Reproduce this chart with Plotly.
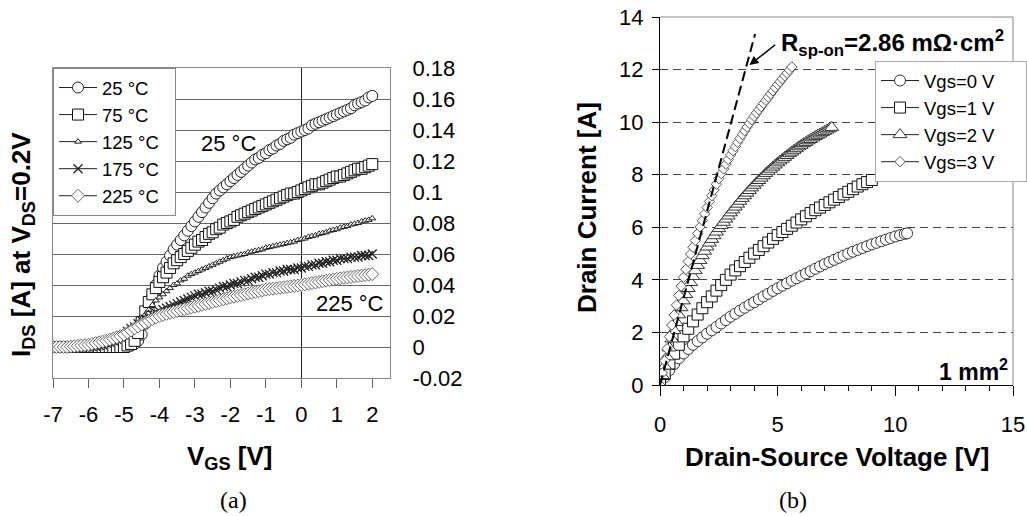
import plotly.graph_objects as go

# ---- panel (a): transfer curves, I_DS vs V_GS at V_DS = 0.2 V ----
VGS = [-7.0, -6.9, -6.8, -6.7, -6.6, -6.5, -6.4, -6.3, -6.2, -6.1,
       -6.0, -5.9, -5.8, -5.7, -5.6, -5.5, -5.4, -5.3, -5.2, -5.1,
       -5.0, -4.9, -4.8, -4.7, -4.6, -4.5, -4.4, -4.3, -4.2, -4.1,
       -4.0, -3.9, -3.8, -3.7, -3.6, -3.5, -3.4, -3.3, -3.2, -3.1,
       -3.0, -2.9, -2.8, -2.7, -2.6, -2.5, -2.4, -2.3, -2.2, -2.1,
       -2.0, -1.9, -1.8, -1.7, -1.6, -1.5, -1.4, -1.3, -1.2, -1.1,
       -1.0, -0.9, -0.8, -0.7, -0.6, -0.5, -0.4, -0.3, -0.2, -0.1,
       0.0, 0.1, 0.2, 0.3, 0.4, 0.5, 0.6, 0.7, 0.8, 0.9,
       1.0, 1.1, 1.2, 1.3, 1.4, 1.5, 1.6, 1.7, 1.8, 1.9,
       2.0]

I_25C = [0, 0, 0, 0, 0, 0, 0, 0, 0, 0,
         0, 0, 0, 0, 0, 0, 0, 0, 0, 0,
         0.000, 0.001, 0.001, 0.002, 0.004, 0.008, 0.015, 0.024, 0.033, 0.040,
         0.046, 0.051, 0.055, 0.059, 0.063, 0.066, 0.069, 0.072, 0.075, 0.078,
         0.081, 0.084, 0.087, 0.090, 0.093, 0.096, 0.099, 0.101, 0.103, 0.105,
         0.107, 0.109, 0.111, 0.113, 0.115, 0.117, 0.119, 0.121, 0.122, 0.124,
         0.125, 0.127, 0.128, 0.130, 0.131, 0.133, 0.134, 0.135, 0.137, 0.138,
         0.139, 0.140, 0.141, 0.143, 0.144, 0.145, 0.146, 0.147, 0.148, 0.149,
         0.150, 0.151, 0.152, 0.153, 0.154, 0.156, 0.157, 0.158, 0.159, 0.161,
         0.162]

I_75C = [0, 0, 0, 0, 0, 0, 0, 0, 0, 0,
         0, 0, 0, 0, 0, 0, 0, 0, 0, 0,
         0.000, 0.001, 0.002, 0.004, 0.009, 0.016, 0.023, 0.029, 0.034, 0.038,
         0.042, 0.045, 0.048, 0.051, 0.054, 0.056, 0.058, 0.060, 0.062, 0.064,
         0.066, 0.068, 0.069, 0.071, 0.073, 0.074, 0.076, 0.077, 0.079, 0.080,
         0.081, 0.082, 0.084, 0.085, 0.086, 0.087, 0.088, 0.089, 0.090, 0.091,
         0.092, 0.093, 0.094, 0.095, 0.096, 0.097, 0.098, 0.099, 0.099, 0.100,
         0.101, 0.102, 0.103, 0.104, 0.105, 0.105, 0.106, 0.107, 0.108, 0.109,
         0.110, 0.110, 0.111, 0.112, 0.113, 0.114, 0.115, 0.115, 0.116, 0.117,
         0.118]

I_125C = [0, 0, 0, 0, 0, 0, 0, 0, 0, 0,
          0.000, 0.000, 0.0005, 0.0008, 0.001, 0.0015, 0.002, 0.003, 0.004, 0.005,
          0.006, 0.008, 0.010, 0.013, 0.015, 0.018, 0.021, 0.024, 0.027, 0.030,
          0.032, 0.034, 0.036, 0.038, 0.040, 0.041, 0.043, 0.044, 0.046, 0.047,
          0.048, 0.049, 0.050, 0.051, 0.052, 0.053, 0.054, 0.055, 0.056, 0.057,
          0.058, 0.0585, 0.059, 0.0595, 0.060, 0.061, 0.0615, 0.062, 0.0625, 0.063,
          0.064, 0.0645, 0.065, 0.0655, 0.066, 0.0665, 0.067, 0.0675, 0.068, 0.069,
          0.0695, 0.070, 0.071, 0.0715, 0.072, 0.073, 0.0735, 0.074, 0.075, 0.0755,
          0.076, 0.077, 0.0775, 0.078, 0.079, 0.0795, 0.080, 0.081, 0.0815, 0.082,
          0.083]

I_175C = [0, 0, 0, 0, 0, 0, 0, 0, 0, 0,
          0.000, 0.0003, 0.0005, 0.001, 0.0015, 0.0025, 0.003, 0.004, 0.005, 0.0065,
          0.008, 0.010, 0.012, 0.013, 0.015, 0.017, 0.018, 0.019, 0.021, 0.022,
          0.023, 0.024, 0.025, 0.026, 0.027, 0.028, 0.029, 0.030, 0.031, 0.032,
          0.033, 0.034, 0.034, 0.035, 0.036, 0.036, 0.037, 0.038, 0.039, 0.039,
          0.040, 0.041, 0.041, 0.042, 0.043, 0.043, 0.044, 0.045, 0.045, 0.046,
          0.047, 0.047, 0.048, 0.048, 0.049, 0.049, 0.050, 0.050, 0.050, 0.051,
          0.051, 0.052, 0.052, 0.053, 0.053, 0.054, 0.054, 0.055, 0.055, 0.056,
          0.056, 0.057, 0.057, 0.057, 0.058, 0.058, 0.058, 0.059, 0.059, 0.059,
          0.060]

I_225C = [0, 0, 0, 0, 0, 0.0003, 0.0005, 0.0007, 0.001, 0.0012,
          0.0015, 0.002, 0.0025, 0.003, 0.0035, 0.004, 0.0048, 0.0055, 0.0063, 0.007,
          0.008, 0.0093, 0.0106, 0.012, 0.0133, 0.0145, 0.0157, 0.0168, 0.0179, 0.019,
          0.020, 0.0207, 0.0214, 0.022, 0.0226, 0.0232, 0.0238, 0.0244, 0.0249, 0.0255,
          0.026, 0.0266, 0.0272, 0.0278, 0.0284, 0.029, 0.0296, 0.0302, 0.0308, 0.0314,
          0.032, 0.0325, 0.033, 0.0335, 0.034, 0.0345, 0.035, 0.0355, 0.036, 0.0365,
          0.037, 0.0373, 0.0376, 0.0379, 0.0382, 0.0385, 0.0388, 0.0391, 0.0394, 0.0397,
          0.040, 0.0404, 0.0408, 0.0412, 0.0416, 0.042, 0.0424, 0.0428, 0.0432, 0.0436,
          0.044, 0.0443, 0.0446, 0.0449, 0.0452, 0.0455, 0.0458, 0.0461, 0.0464, 0.0467,
          0.047]

TEMP_LABELS = ["25 °C", "75 °C", "125 °C", "175 °C", "225 °C"]
VGS_TICKS = [-7, -6, -5, -4, -3, -2, -1, 0, 1, 2]
VGS_TICKTEXT = ["-7", "-6", "-5", "-4", "-3", "-2", "-1", "0", "1", "2"]
IDS_TICKS = [-0.02, 0, 0.02, 0.04, 0.06, 0.08, 0.1, 0.12, 0.14, 0.16, 0.18]
IDS_TICKTEXT = ["-0.02", "0", "0.02", "0.04", "0.06", "0.08", "0.1", "0.12", "0.14", "0.16", "0.18"]

# ---- panel (b): output curves, drain current vs drain-source voltage ----
VDS_0 = [0.0, 0.2, 0.4, 0.6, 0.8, 1.0, 1.2, 1.4, 1.6, 1.8,
         2.0, 2.2, 2.4, 2.6, 2.8, 3.0, 3.2, 3.4, 3.6, 3.8,
         4.0, 4.2, 4.4, 4.6, 4.8, 5.0, 5.2, 5.4, 5.6, 5.8,
         6.0, 6.2, 6.4, 6.6, 6.8, 7.0, 7.2, 7.4, 7.6, 7.8,
         8.0, 8.2, 8.4, 8.6, 8.8, 9.0, 9.2, 9.4, 9.6, 9.8,
         10.0, 10.2, 10.4, 10.5]
ID_0 = [0.00, 0.30, 0.57, 0.80, 1.01, 1.20, 1.37, 1.53, 1.67, 1.81,
        1.95, 2.08, 2.21, 2.34, 2.47, 2.60, 2.71, 2.83, 2.94, 3.05,
        3.15, 3.26, 3.37, 3.47, 3.58, 3.68, 3.78, 3.87, 3.97, 4.06,
        4.15, 4.24, 4.33, 4.42, 4.51, 4.60, 4.68, 4.76, 4.84, 4.92,
        5.00, 5.07, 5.14, 5.21, 5.28, 5.35, 5.41, 5.47, 5.53, 5.59,
        5.65, 5.70, 5.75, 5.77]

VDS_1 = VDS_0[:46]
ID_1 = [0.00, 0.42, 0.82, 1.19, 1.53, 1.85, 2.14, 2.42, 2.68, 2.92,
        3.15, 3.37, 3.59, 3.80, 4.00, 4.20, 4.36, 4.52, 4.68, 4.84,
        5.00, 5.14, 5.28, 5.42, 5.56, 5.70, 5.82, 5.94, 6.06, 6.18,
        6.30, 6.42, 6.54, 6.65, 6.75, 6.85, 6.95, 7.05, 7.15, 7.25,
        7.35, 7.45, 7.55, 7.64, 7.72, 7.80]

VDS_2 = [0.0, 0.1, 0.2, 0.3, 0.4, 0.5, 0.6, 0.7, 0.8, 0.9,
         1.0, 1.1, 1.2, 1.3, 1.4, 1.5, 1.6, 1.7, 1.8, 1.9,
         2.0, 2.1, 2.2, 2.3, 2.4, 2.5, 2.6, 2.7, 2.8, 2.9,
         3.0, 3.1, 3.2, 3.3, 3.4, 3.5, 3.6, 3.7, 3.8, 3.9,
         4.0, 4.1, 4.2, 4.3, 4.4, 4.5, 4.6, 4.7, 4.8, 4.9,
         5.0, 5.1, 5.2, 5.3, 5.4, 5.5, 5.6, 5.7, 5.8, 5.9,
         6.0, 6.1, 6.2, 6.3, 6.4, 6.5, 6.6, 6.7, 6.8, 6.9,
         7.0, 7.1, 7.2, 7.3]
ID_2 = [0.00, 0.36, 0.72, 1.07, 1.41, 1.75, 2.07, 2.38, 2.67, 2.94,
        3.20, 3.44, 3.67, 3.90, 4.13, 4.35, 4.55, 4.74, 4.92, 5.09,
        5.25, 5.40, 5.54, 5.68, 5.82, 5.95, 6.07, 6.19, 6.31, 6.43,
        6.55, 6.66, 6.77, 6.88, 6.99, 7.10, 7.20, 7.30, 7.40, 7.50,
        7.60, 7.69, 7.78, 7.87, 7.96, 8.05, 8.13, 8.21, 8.29, 8.37,
        8.45, 8.52, 8.59, 8.66, 8.73, 8.80, 8.86, 8.93, 8.99, 9.06,
        9.12, 9.18, 9.23, 9.29, 9.34, 9.40, 9.45, 9.50, 9.55, 9.60,
        9.65, 9.70, 9.75, 9.80]

VDS_3 = VDS_2[:57]
ID_3 = [0.00, 0.46, 0.92, 1.38, 1.84, 2.28, 2.66, 3.04, 3.41, 3.76,
        4.10, 4.40, 4.70, 4.98, 5.24, 5.50, 5.76, 6.01, 6.26, 6.51,
        6.75, 6.98, 7.20, 7.42, 7.64, 7.85, 8.04, 8.22, 8.40, 8.58,
        8.75, 8.91, 9.07, 9.23, 9.38, 9.53, 9.67, 9.81, 9.95, 10.09,
        10.22, 10.35, 10.47, 10.59, 10.71, 10.83, 10.95, 11.07, 11.19, 11.31,
        11.43, 11.54, 11.65, 11.76, 11.86, 11.98, 12.10]

# dashed R_sp-on fit line, end points
FIT_V = [0.0, 4.04]
FIT_I = [0.0, 13.35]

VGS_LABELS = ["Vgs=0 V", "Vgs=1 V", "Vgs=2 V", "Vgs=3 V"]

FONT = "Liberation Sans, Arial, sans-serif"
W, H = 1027, 516
PAD_A = "\u00a0\u00a0"               # widens the legend boxes a little
PAD_B = "\u00a0\u00a0\u00a0\u00a0\u00a0"


def px(x):
    return x / W


def py(y):
    return 1 - y / H


fig = go.Figure()

# panel (a) traces
styles_a = [
    dict(symbol="circle", size=11, color="white", line=dict(color="#222", width=1)),
    dict(symbol="square", size=11, color="white", line=dict(color="#111", width=1)),
    dict(symbol="triangle-up", size=6, color="white", line=dict(color="#222", width=1)),
    dict(symbol="x-thin", size=9, color="#222", line=dict(color="#222", width=1.3)),
    dict(symbol="diamond", size=10, color="white", line=dict(color="#666", width=1)),
]
for label, ys, mk in zip(TEMP_LABELS, [I_25C, I_75C, I_125C, I_175C, I_225C], styles_a):
    fig.add_trace(go.Scatter(
        x=VGS, y=ys, mode="lines+markers", name=label + PAD_A,
        line=dict(color="#222", width=1), marker=mk,
        xaxis="x", yaxis="y", legend="legend",
    ))

# panel (b) traces
styles_b = [
    dict(symbol="circle", size=11, color="white", line=dict(color="#333", width=1)),
    dict(symbol="square", size=11, color="white", line=dict(color="#111", width=1)),
    dict(symbol="triangle-up", size=12, color="white", line=dict(color="#333", width=1)),
    dict(symbol="diamond", size=8, color="white", line=dict(color="#555", width=1)),
]
for label, xs, ys, mk in zip(VGS_LABELS, [VDS_0, VDS_1, VDS_2, VDS_3],
                             [ID_0, ID_1, ID_2, ID_3], styles_b):
    fig.add_trace(go.Scatter(
        x=xs, y=ys, mode="lines+markers", name=label + PAD_B,
        line=dict(color="#222", width=1), marker=mk,
        xaxis="x2", yaxis="y2", legend="legend2",
    ))

fig.add_trace(go.Scatter(
    x=FIT_V, y=FIT_I, mode="lines", showlegend=False,
    line=dict(color="black", width=2, dash="10px,5px"),
    xaxis="x2", yaxis="y2",
))

tick_font = dict(family=FONT, size=22, color="black")
title_font = dict(family=FONT, size=26, color="black")
legend_font = dict(family=FONT, size=18.5, color="black")

fig.update_layout(
    width=W, height=H,
    margin=dict(l=0, r=0, t=0, b=0),
    paper_bgcolor="white", plot_bgcolor="white",
    font=dict(family=FONT, color="black"),
    xaxis=dict(
        domain=[px(53), px(390)], range=[-7, 2.5], automargin=False,
        tickvals=VGS_TICKS, ticktext=VGS_TICKTEXT,
        ticks="outside", ticklen=9, tickcolor="#666",
        tickfont=tick_font, ticklabelstandoff=8,
        showgrid=False, zeroline=True, zerolinecolor="#222", zerolinewidth=1,
        showline=True, linecolor="#888", linewidth=1, mirror=True,
        anchor="y",
    ),
    yaxis=dict(
        domain=[py(378), py(68)], range=[-0.02, 0.18], side="right", automargin=False,
        tickvals=IDS_TICKS, ticktext=IDS_TICKTEXT, ticks="",
        tickfont=tick_font, ticklabelstandoff=17,
        showgrid=True, gridcolor="#666", gridwidth=1, zeroline=False,
        showline=True, linecolor="#888", linewidth=1, mirror=True,
        anchor="x",
    ),
    xaxis2=dict(
        domain=[px(660), px(1013)], range=[0, 15], automargin=False,
        tickvals=[0, 5, 10, 15], ticks="outside", ticklen=10, tickcolor="black",
        minor=dict(dtick=1, ticks="outside", ticklen=5, tickcolor="black"),
        tickfont=tick_font, ticklabelstandoff=10, ticklabeloverflow="allow",
        showgrid=False, zeroline=False,
        showline=True, linecolor="black", linewidth=1,
        anchor="y2",
    ),
    yaxis2=dict(
        domain=[py(385), py(17)], range=[0, 14], automargin=False,
        tickvals=[0, 2, 4, 6, 8, 10, 12, 14], ticks="outside", ticklen=7, tickcolor="black",
        tickfont=tick_font, ticklabelstandoff=4, ticklabeloverflow="allow",
        showgrid=True, gridcolor="#444", gridwidth=1, griddash="8px,5px",
        zeroline=False, showline=True, linecolor="black", linewidth=1,
        anchor="x2",
    ),
    legend=dict(
        x=px(53), y=py(68), xanchor="left", yanchor="top",
        bgcolor="white", bordercolor="#888", borderwidth=1,
        font=legend_font, tracegroupgap=0, itemwidth=38,
    ),
    legend2=dict(
        x=px(875), y=py(61), xanchor="left", yanchor="top",
        bgcolor="white", bordercolor="#aaa", borderwidth=1,
        font=legend_font, tracegroupgap=0, itemwidth=38,
    ),
    shapes=[
        # top and right frame of panel (b)
        dict(type="line", xref="x2 domain", yref="y2 domain", x0=0, x1=1, y0=1, y1=1,
             line=dict(color="#888", width=1)),
        dict(type="line", xref="x2 domain", yref="y2 domain", x0=1, x1=1, y0=0, y1=1,
             line=dict(color="#888", width=1)),
    ],
)

label_font = dict(family=FONT, size=22, color="black")
serif_font = dict(family="Liberation Serif, serif", size=24, color="black")
annotations = [
    dict(text="<b>I<sub>DS</sub> [A] at V<sub>DS</sub>=0.2V</b>", x=px(23), y=py(245),
         textangle=-90, font=title_font),
    dict(text="<b>V<sub>GS</sub> [V]</b>", x=px(230), y=py(457), font=title_font),
    dict(text="25 °C", x=px(228), y=py(143), font=label_font),
    dict(text="225 °C", x=px(350), y=py(303), font=label_font),
    dict(text="<b>Drain Current [A]</b>", x=px(587), y=py(208), textangle=-90, font=title_font),
    dict(text="<b>Drain-Source Voltage [V]</b>", x=px(837), y=py(457), font=title_font),
    dict(text="<b>R<sub>sp-on</sub>=2.86 mΩ·cm<sup>2</sup></b>", x=px(779), y=py(43),
         xanchor="left", font=dict(family=FONT, size=24, color="black")),
    dict(text="<b>1 mm<sup>2</sup></b>", x=px(1010), y=py(370), xanchor="right",
         font=dict(family=FONT, size=23, color="black")),
    dict(text="(a)", x=px(233), y=py(500), font=serif_font),
    dict(text="(b)", x=px(793), y=py(500), font=serif_font),
]
for a in annotations:
    base = dict(xref="paper", yref="paper", showarrow=False,
                xanchor="center", yanchor="middle")
    base.update(a)
    fig.add_annotation(**base)

# arrow pointing at the fit line
fig.add_annotation(
    x=3.80, y=12.17, xref="x2", yref="y2",
    ax=4.96, ay=12.99, axref="x2", ayref="y2",
    text="", showarrow=True, arrowhead=2, arrowsize=1.2, arrowwidth=1.5,
    arrowcolor="black",
)

# drop the default page margin so the figure fills the window exactly
fig.write_html("out.html",
               config={"displayModeBar": False},
               post_script="document.body.style.margin='0';"
                           "document.body.style.overflow='hidden';")
